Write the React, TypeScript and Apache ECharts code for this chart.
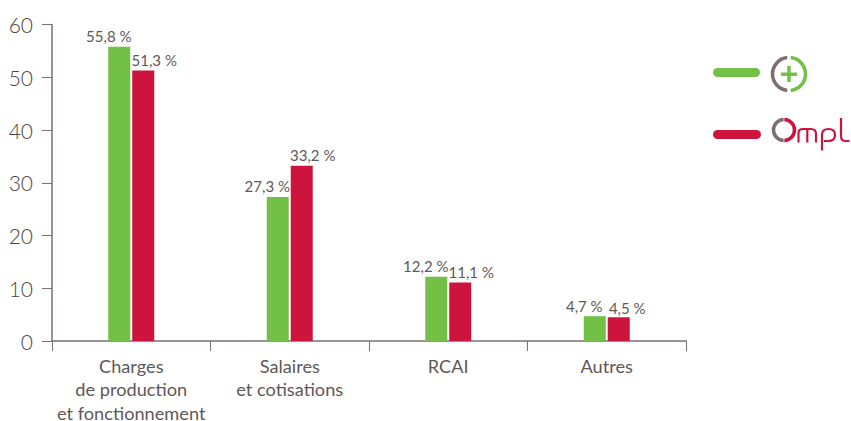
import React, { useEffect, useRef } from "react";
import * as echarts from "echarts";

const categories = ["Charges\nde production\net fonctionnement", "Salaires\net cotisations", "RCAI", "Autres"];
const seriesGreen = [55.8, 27.3, 12.2, 4.7];
const seriesRed = [51.3, 33.2, 11.1, 4.5];
const GREEN = "#72c045";
const RED = "#cc143c";
const GREY = "#7b7070";
const TEXT = "#5f5858";
const FONT = "Lato";

const fmt = (p: any) => String(p.value).replace(".", ",") + " %";

echarts.graphic.registerShape(
  "mplLogo",
  echarts.graphic.extendPath(
    "M798.5 142.5 V133 Q798.5 129 803 129 H811 Q816 129 816 134 V142.5 M807.3 129 V142.5 M822 150.5 V135 Q822 129 828.5 129 Q835 129 835 135 Q835 141 828.5 141 H824 M841 118 V136 Q841 141 845.5 141 H849.5",
    {}
  )
);

export default function App() {
  const ref = useRef<HTMLDivElement>(null);
  useEffect(() => {
    document.body.style.margin = "0";
    const chart = echarts.init(ref.current!, null, { renderer: "svg" });
    const arc = (cx: number, cy: number, r: number, a: number, b: number, color: string, w: number) => ({
      type: "arc",
      shape: { cx, cy, r, startAngle: a, endAngle: b, clockwise: true },
      style: { stroke: color, lineWidth: w, fill: "none", lineCap: "butt" },
    });
    const d2r = Math.PI / 180;
    chart.setOption({
      animation: false,
      grid: { left: 52, right: 165, top: 24.5, bottom: 80, outerBoundsMode: "none" },
      xAxis: {
        type: "category",
        data: categories,
        axisLine: { lineStyle: { color: GREY, width: 1.5 } },
        axisTick: { show: true, alignWithLabel: false, length: 10, lineStyle: { color: GREY, width: 1 } },
        axisLabel: { color: TEXT, fontFamily: FONT, fontSize: 18.2, lineHeight: 23.5, margin: 13, interval: 0 },
      },
      yAxis: {
        type: "value",
        min: 0,
        max: 60,
        interval: 10,
        splitLine: { show: false },
        axisLine: { show: true, lineStyle: { color: GREY, width: 1.5 } },
        axisTick: { show: true, length: 10, lineStyle: { color: GREY, width: 1 } },
        axisLabel: { color: "#4a4444", fontFamily: FONT, fontSize: 21, fontWeight: 300, margin: 19, padding: [0, 0, 5, 0] },
      },
      series: [
        {
          type: "bar",
          name: "(+)",
          data: seriesGreen,
          barWidth: 22,
          barGap: "9%",
          itemStyle: { color: GREEN },
          label: { show: true, position: "top", distance: 3, offset: [-10.5, 0], formatter: fmt, color: TEXT, fontFamily: FONT, fontSize: 15 },
        },
        {
          type: "bar",
          name: "Ompl",
          data: seriesRed.map((value, i) => (i === 3 ? { value, label: { offset: [8.5, 1] } } : value)),
          barWidth: 22,
          itemStyle: { color: RED },
          label: { show: true, position: "top", distance: 3, offset: [11, 0], formatter: fmt, color: TEXT, fontFamily: FONT, fontSize: 15 },
        },
      ],
      graphic: [
        { type: "rect", shape: { x: 713, y: 68, width: 47, height: 9, r: 4.5 }, style: { fill: GREEN } },
        { type: "rect", shape: { x: 713, y: 130, width: 48, height: 9, r: 4.5 }, style: { fill: RED } },
        arc(789, 74, 16.5, 96 * d2r, 264 * d2r, GREY, 3.5),
        arc(789, 74, 16.5, -84 * d2r, 84 * d2r, GREEN, 3.5),
        { type: "rect", shape: { x: 781, y: 72.5, width: 16, height: 3.5 }, style: { fill: GREEN } },
        { type: "rect", shape: { x: 787.2, y: 66, width: 3.5, height: 16 }, style: { fill: GREEN } },
        arc(784, 130, 10.5, 92 * d2r, 268 * d2r, GREY, 3.5),
        arc(784, 130, 10.5, -88 * d2r, 88 * d2r, RED, 3.5),
        { type: "mplLogo", style: { stroke: RED, lineWidth: 2.2, fill: "none" } },
      ],
    });
    return () => chart.dispose();
  }, []);
  return <div ref={ref} style={{ width: 851, height: 421 }} />;
}
